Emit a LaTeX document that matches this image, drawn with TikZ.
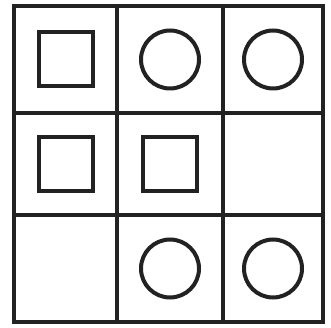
\documentclass[tikz,border=0pt]{standalone}
\usepackage{tikz}
\usetikzlibrary{positioning}
\definecolor{ink}{HTML}{222222}
\tikzset{
  gridline/.style={draw=ink,line width=4pt},
  sqmark/.style={draw=ink,line width=4pt,rectangle,minimum width=54pt,minimum height=54pt,inner sep=0pt},
  circmark/.style={draw=ink,line width=4pt,circle,minimum size=58pt,inner sep=0pt}
}
\begin{document}
\begin{tikzpicture}[x=1pt,y=-1pt]
  \useasboundingbox (0,0) rectangle (331,328);
  % cell centres
  \coordinate (c11) at (65.5,59.5);
  \coordinate (c12) at (170,59.5);
  \coordinate (c13) at (273,59.5);
  \coordinate (c21) at (65.5,164);
  \coordinate (c22) at (170,164);
  \coordinate (c31) at (65.5,268.5);
  \coordinate (c32) at (170,268.5);
  \coordinate (c33) at (273,268.5);
  % grid
  \draw[gridline] (14,6) rectangle (323,322);
  \draw[gridline] (117,6) -- (117,322);
  \draw[gridline] (223,6) -- (223,322);
  \draw[gridline] (14,113) -- (323,113);
  \draw[gridline] (14,215) -- (323,215);
  % marks
  \node[sqmark] (s11) at (c11) {};
  \node[circmark] (o12) at (c12) {};
  \node[circmark] (o13) at (c13) {};
  \node[sqmark] (s21) at (c21) {};
  \node[sqmark] (s22) at (c22) {};
  \node[circmark] (o32) at (c32) {};
  \node[circmark] (o33) at (c33) {};
\end{tikzpicture}
\end{document}
